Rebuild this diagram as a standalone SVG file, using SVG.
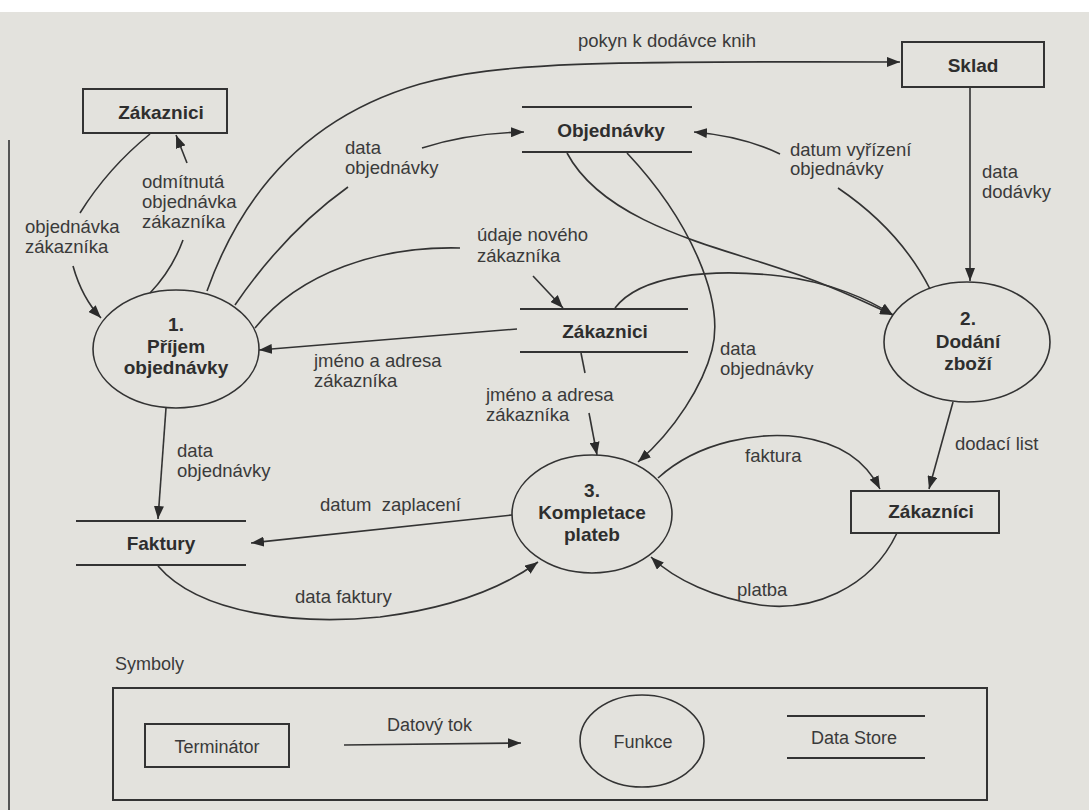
<svg xmlns="http://www.w3.org/2000/svg" width="1089" height="810" viewBox="0 0 1089 810">
  <style>
    .bg { fill: #e3e2dd; }
    .box { fill: none; stroke: #333; stroke-width: 2; }
    .proc { fill: none; stroke: #333; stroke-width: 1.6; }
    .store { stroke: #333; stroke-width: 2; }
    .flow { fill: none; stroke: #333; stroke-width: 1.6; }
    .flow-a { fill: none; stroke: #333; stroke-width: 1.6; marker-end: url(#ah); }
    .name { font-family: "Liberation Sans", Arial, sans-serif; font-size: 19px; font-weight: bold; fill: #2e2e2e; text-anchor: middle; }
    .lbl { font-family: "Liberation Sans", Arial, sans-serif; font-size: 18.5px; fill: #3a3a3a; }
    .leg { font-family: "Liberation Sans", Arial, sans-serif; font-size: 18px; fill: #3a3a3a; }
  </style>
  <defs>
    <marker id="ah" viewBox="0 0 13 10" refX="13" refY="5" markerWidth="13" markerHeight="10" markerUnits="userSpaceOnUse" orient="auto">
      <path d="M0,0 L13,5 L0,10 z" fill="#2b2b2b"/>
    </marker>
  </defs>

  <!-- page -->
  <rect class="bg" x="0" y="0" width="1089" height="810"/>
  <rect x="0" y="0" width="1089" height="12" fill="#ffffff"/>
  <line x1="9" y1="140" x2="9" y2="810" stroke="#555" stroke-width="2"/>

  <!-- connectors -->
  <g id="connectors">
    <!-- objednávka zákazníka -->
    <path class="flow" d="M150,134 Q108,168 80,213"/>
    <path class="flow-a" d="M73,266 Q82,298 101,318"/>
    <!-- odmítnutá objednávka zákazníka -->
    <path class="flow-a" d="M187,163 L176,135"/>
    <path class="flow" d="M183,240 Q172,270 150,293"/>
    <!-- data objednávky -> Objednávky -->
    <path class="flow" d="M235,305 Q285,232 348,187"/>
    <path class="flow-a" d="M422,148 Q468,133 524,132"/>
    <!-- pokyn k dodávce knih -->
    <path class="flow-a" d="M207,291 C250,170 330,110 420,84 C500,62 600,61 900,62"/>
    <!-- údaje nového zákazníka -->
    <path class="flow" d="M255,328 C300,272 380,246 460,248"/>
    <path class="flow-a" d="M533,276 L563,308"/>
    <!-- jméno a adresa zákazníka -> 1 -->
    <path class="flow-a" d="M517,329 L259,350"/>
    <!-- Objednávky -> 2 -->
    <path class="flow-a" d="M567,153 C600,215 690,240 760,262 S860,300 893,315"/>
    <!-- Zákaznici -> 2 -->
    <path class="flow-a" d="M615,308 C640,275 710,268 780,276 C830,282 870,300 893,315"/>
    <!-- datum vyřízení objednávky -->
    <path class="flow-a" d="M780,154 Q742,136 694,132"/>
    <path class="flow" d="M838,188 Q900,230 930,289"/>
    <!-- data dodávky -->
    <path class="flow-a" d="M970,87 L970,281"/>
    <!-- data objednávky -> 3 -->
    <path class="flow-a" d="M627,153 C690,220 725,300 712,350 C703,385 675,430 638,462"/>
    <!-- jméno a adresa zákazníka -> 3 -->
    <path class="flow" d="M581,353 L585,373"/>
    <path class="flow-a" d="M589,413 L597,455"/>
    <!-- datum zaplacení -->
    <path class="flow-a" d="M512,515 L251,543"/>
    <!-- data faktury -->
    <path class="flow-a" d="M158,566 C200,615 300,625 380,617 C450,608 500,590 538,562"/>
    <!-- dodací list -->
    <path class="flow-a" d="M953,402 L929,489"/>
    <!-- faktura -->
    <path class="flow-a" d="M658,478 C700,440 760,432 800,437 C840,443 865,460 880,489"/>
    <!-- platba -->
    <path class="flow-a" d="M897,533 C870,590 810,612 760,605 C715,598 675,580 651,557"/>
    <!-- data objednávky -> Faktury -->
    <path class="flow-a" d="M166,408 L158,519"/>
  </g>

  <!-- flow labels -->
  <g id="flow-labels" class="lbl">
    <text x="578" y="47">pokyn k dodávce knih</text>
    <text x="345" y="154">data</text>
    <text x="345" y="174">objednávky</text>
    <text x="142" y="188">odmítnutá</text>
    <text x="142" y="208">objednávka</text>
    <text x="142" y="228">zákazníka</text>
    <text x="25" y="233">objednávka</text>
    <text x="25" y="253">zákazníka</text>
    <text x="477" y="241">údaje nového</text>
    <text x="477" y="262">zákazníka</text>
    <text x="314" y="367">jméno a adresa</text>
    <text x="314" y="387">zákazníka</text>
    <text x="790" y="156">datum vyřízení</text>
    <text x="790" y="175">objednávky</text>
    <text x="982" y="178">data</text>
    <text x="982" y="198">dodávky</text>
    <text x="720" y="355">data</text>
    <text x="720" y="375">objednávky</text>
    <text x="486" y="401">jméno a adresa</text>
    <text x="486" y="421">zákazníka</text>
    <text x="177" y="457">data</text>
    <text x="177" y="477">objednávky</text>
    <text x="320" y="511">datum&#160; zaplacení</text>
    <text x="295" y="603">data faktury</text>
    <text x="745" y="462">faktura</text>
    <text x="737" y="596">platba</text>
    <text x="955" y="450">dodací list</text>
  </g>

  <!-- terminators -->
  <g id="zakaznici-top">
    <rect class="box" x="83" y="89" width="144" height="44"/>
    <text class="name" x="161" y="119">Zákaznici</text>
  </g>
  <g id="sklad">
    <rect class="box" x="902" y="42" width="142" height="45"/>
    <text class="name" x="973" y="72">Sklad</text>
  </g>
  <g id="zakaznici-bottom">
    <rect class="box" x="851" y="491" width="148" height="42"/>
    <text class="name" x="931" y="518">Zákazníci</text>
  </g>

  <!-- data stores -->
  <g id="store-objednavky">
    <line class="store" x1="522" y1="107" x2="692" y2="107"/>
    <line class="store" x1="522" y1="152" x2="692" y2="152"/>
    <text class="name" x="611" y="137">Objednávky</text>
  </g>
  <g id="store-zakaznici">
    <line class="store" x1="520" y1="309" x2="688" y2="309"/>
    <line class="store" x1="520" y1="352" x2="688" y2="352"/>
    <text class="name" x="605" y="338">Zákaznici</text>
  </g>
  <g id="store-faktury">
    <line class="store" x1="76" y1="521" x2="246" y2="521"/>
    <line class="store" x1="76" y1="565" x2="246" y2="565"/>
    <text class="name" x="161" y="550">Faktury</text>
  </g>

  <!-- processes -->
  <g id="proc-1">
    <ellipse class="proc" cx="176" cy="349" rx="83" ry="59"/>
    <text class="name" x="176" y="331">1.</text>
    <text class="name" x="176" y="353">Příjem</text>
    <text class="name" x="176" y="374">objednávky</text>
  </g>
  <g id="proc-2">
    <ellipse class="proc" cx="967" cy="342" rx="83" ry="60"/>
    <text class="name" x="968" y="325">2.</text>
    <text class="name" x="968" y="348">Dodání</text>
    <text class="name" x="968" y="370">zboží</text>
  </g>
  <g id="proc-3">
    <ellipse class="proc" cx="592" cy="514" rx="80" ry="59"/>
    <text class="name" x="592" y="497">3.</text>
    <text class="name" x="592" y="519">Kompletace</text>
    <text class="name" x="592" y="541">plateb</text>
  </g>

  <!-- legend -->
  <g id="legend">
    <text class="leg" x="115" y="670" font-size="17">Symboly</text>
    <rect class="box" x="113" y="688" width="874" height="112"/>
    <rect class="box" x="145" y="724" width="144" height="43"/>
    <text class="leg" x="217" y="753" text-anchor="middle">Terminátor</text>
    <path class="flow-a" d="M344,745 L521,743"/>
    <text class="leg" x="387" y="731">Datový tok</text>
    <ellipse class="proc" cx="642" cy="741" rx="62" ry="46"/>
    <text class="leg" x="643" y="748" text-anchor="middle">Funkce</text>
    <line class="store" x1="787" y1="716" x2="925" y2="716"/>
    <line class="store" x1="787" y1="758" x2="925" y2="758"/>
    <text class="leg" x="811" y="744">Data Store</text>
  </g>
</svg>
